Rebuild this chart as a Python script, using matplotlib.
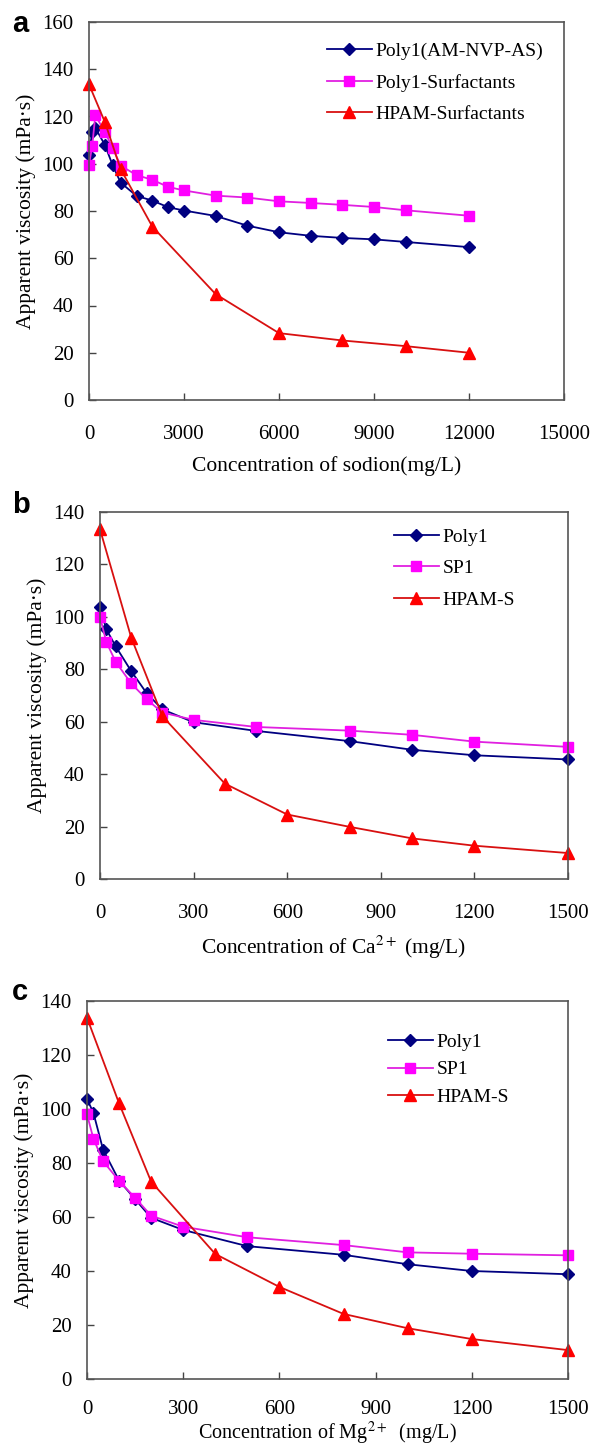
import matplotlib
matplotlib.use("Agg")
import matplotlib.pyplot as plt

plt.rcParams['font.family'] = ['Liberation Serif', 'DejaVu Serif']
plt.rcParams['mathtext.fontset'] = 'stix'

# ---- panel a : sodium ----
xa_poly = [0, 100, 200, 500, 750, 1000, 1500, 2000, 2500, 3000, 4000, 5000, 6000, 7000, 8000, 9000, 10000, 12000]
ya_poly = [103.8, 113.5, 115.2, 108, 99.3, 92, 86.4, 84.4, 81.6, 80.2, 77.9, 73.8, 71, 69.5, 68.6, 68, 66.9, 64.7]
xa_sp = [0, 100, 200, 500, 750, 1000, 1500, 2000, 2500, 3000, 4000, 5000, 6000, 7000, 8000, 9000, 10000, 12000]
ya_sp = [99.6, 107.4, 120.5, 113.5, 106.5, 99.2, 95.2, 93.2, 90.2, 88.7, 86.5, 85.7, 84.1, 83.4, 82.6, 81.7, 80.3, 78]
xa_hp = [0, 500, 1000, 2000, 4000, 6000, 8000, 10000, 12000]
ya_hp = [133.6, 117.7, 97.7, 73.4, 44.8, 28.3, 25.2, 22.8, 20]
labels_a = ['Poly1(AM-NVP-AS)', 'Poly1-Surfactants', 'HPAM-Surfactants']

# ---- panel b : calcium ----
xb_poly = [0, 20, 50, 100, 150, 200, 300, 500, 800, 1000, 1200, 1500]
yb_poly = [103.7, 95.3, 88.8, 79.3, 70.8, 64.7, 59.8, 56.5, 52.6, 49.3, 47.2, 45.6]
xb_sp = [0, 20, 50, 100, 150, 200, 300, 500, 800, 1000, 1200, 1500]
yb_sp = [100, 90.5, 82.9, 74.6, 68.5, 63.5, 60.7, 58, 56.6, 55, 52.4, 50.4]
xb_hp = [0, 100, 200, 400, 600, 800, 1000, 1200, 1500]
yb_hp = [133.4, 92.1, 62.1, 36.4, 24.6, 19.9, 15.5, 12.7, 9.9]

# ---- panel c : magnesium ----
xc_poly = [0, 20, 50, 100, 150, 200, 300, 500, 800, 1000, 1200, 1500]
yc_poly = [103.7, 98.6, 85, 73.5, 66.6, 59.7, 55.2, 49.2, 46, 42.5, 40, 38.8]
xc_sp = [0, 20, 50, 100, 150, 200, 300, 500, 800, 1000, 1200, 1500]
yc_sp = [98, 89, 80.7, 73.4, 67.1, 60.5, 56.4, 52.5, 49.6, 46.9, 46.4, 45.8]
xc_hp = [0, 100, 200, 400, 600, 800, 1000, 1200, 1500]
yc_hp = [133.8, 102.1, 73.1, 46.3, 34.1, 24.1, 18.8, 14.8, 10.7]
labels_bc = ['Poly1', 'SP1', 'HPAM-S']

W, H = 592, 1446
fig = plt.figure(figsize=(W / 100, H / 100), dpi=100)

def px_axes(left, top, right, bottom):
    return fig.add_axes([left / W, 1 - bottom / H, (right - left) / W, (bottom - top) / H])

def draw(ax, data, labels, xmax, xstep, ymax, xlabel, xlpad, xlsize, xpad,
         leg_xy, leg_space, panel, panel_y):
    styles = [dict(color='#000080', marker='D', ms=6, mfc='#000080', mec='#000080'),
              dict(color='#e020e0', marker='s', ms=7, mfc='#ff00ff', mec='#ff00ff'),
              dict(color='#d81010', marker='^', ms=9, mfc='#ff0000', mec='#ff0000')]
    for (x, y), lab, st in zip(data, labels, styles):
        ax.plot(x, y, lw=1.3, label=lab, clip_on=False, **st)
    ax.set_xlim(0, xmax)
    ax.set_ylim(0, ymax)
    ax.set_xticks(range(0, xmax + 1, xstep))
    ax.set_yticks(range(0, ymax + 1, 20))
    ax.tick_params(direction='in', length=5, width=1, color='#444444', labelsize=15)
    ax.tick_params(axis='x', pad=xpad)
    ax.tick_params(axis='y', pad=11)
    for s in ax.spines.values():
        s.set_color('#555555')
        s.set_linewidth(1.2)
    ax.set_ylabel('Apparent viscosity (mPa·s)', fontsize=15.5, labelpad=5)
    ax.set_xlabel(xlabel, fontsize=xlsize, labelpad=xlpad)
    ax.legend(loc='upper left', bbox_to_anchor=(leg_xy[0] / W, 1 - leg_xy[1] / H),
              bbox_transform=fig.transFigure, frameon=False, fontsize=14,
              handlelength=2.3, handletextpad=0.2, borderpad=0, borderaxespad=0,
              labelspacing=leg_space)
    fig.text(12 / W, 1 - panel_y / H, panel, fontsize=21, fontweight='bold',
             family='Liberation Sans', va='baseline')

ax_a = px_axes(89, 22, 564, 400)
draw(ax_a, [(xa_poly, ya_poly), (xa_sp, ya_sp), (xa_hp, ya_hp)], labels_a,
     15000, 3000, 160, 'Concentration of sodion(mg/L)', 9, 15.5, 18,
     (327, 42), 0.72, 'a', 32)

ax_b = px_axes(100, 512, 568, 879)
draw(ax_b, [(xb_poly, yb_poly), (xb_sp, yb_sp), (xb_hp, yb_hp)], labels_bc,
     1500, 300, 140, 'Concentration of Ca$^{2+}$ (mg/L)', 8, 15.5, 18,
     (394, 528), 0.72, 'b', 513)

ax_c = px_axes(87, 1001, 568, 1379)
draw(ax_c, [(xc_poly, yc_poly), (xc_sp, yc_sp), (xc_hp, yc_hp)], labels_bc,
     1500, 300, 140, 'Concentration of Mg$^{2+}$  (mg/L)', 1, 14.5, 15,
     (388, 1033), 0.52, 'c', 1000)

fig.savefig('out.png', dpi=100)
